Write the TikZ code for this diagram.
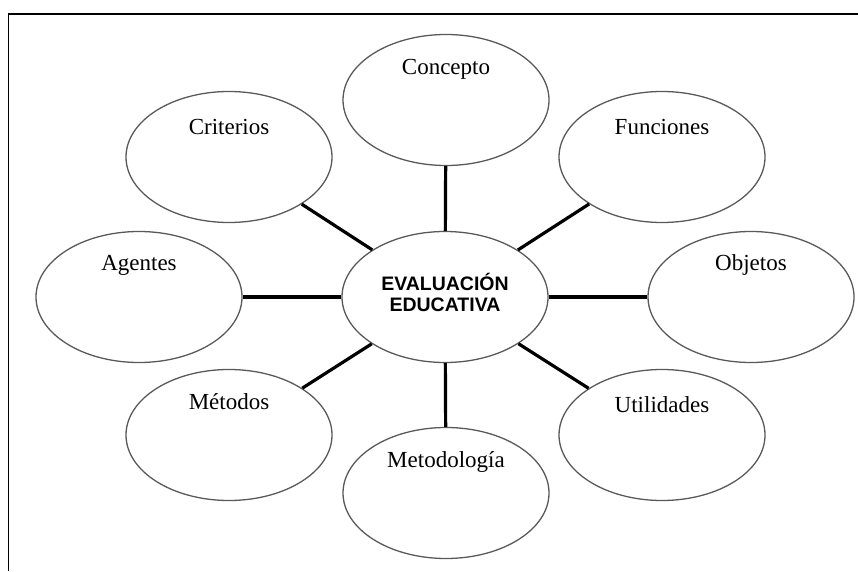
\documentclass[tikz,border=0pt]{standalone}
\usepackage{fontspec}
\setmainfont{Liberation Serif}
\newfontfamily\hdfont{Liberation Sans}
\usetikzlibrary{shapes.geometric}
\begin{document}
\begin{tikzpicture}[x=1pt,y=1pt,
  sat/.style={ellipse,draw=black!65,line width=1.3pt,minimum width=206pt,minimum height=131pt,inner sep=0pt},
  lbl/.style={inner sep=0pt,font=\fontsize{23}{27}\selectfont,text=black},
  hub/.style={inner sep=0pt,align=center,font=\hdfont\bfseries\fontsize{19.5}{21}\selectfont,text=black},
  conn/.style={line width=3.2pt,black},
  frame/.style={line width=1.4pt,black}]
\useasboundingbox (0,0) rectangle (858,571);
\coordinate (fbl) at (8.5,0);
\coordinate (ftl) at (8.5,557);
\coordinate (ftr) at (858,557);
\draw[frame] (fbl) -- (ftl) -- (ftr);
\node[sat] (concepto) at (446,471) {};
\node[sat] (criterios) at (229,414) {};
\node[sat] (funciones) at (662,414) {};
\node[sat] (agentes) at (139,274) {};
\node[sat] (centro) at (445,274) {};
\node[sat] (objetos) at (751,274) {};
\node[sat] (metodos) at (229,136) {};
\node[sat] (utilidades) at (662,136) {};
\node[sat] (metodologia) at (446,78) {};
\node[lbl] (lconcepto) at ([yshift=31]concepto.center) {Concepto};
\node[lbl] (lcriterios) at ([yshift=30]criterios.center) {Criterios};
\node[lbl] (lfunciones) at ([yshift=30]funciones.center) {Funciones};
\node[lbl] (lagentes) at ([yshift=32]agentes.center) {Agentes};
\node[lbl] (lobjetos) at ([yshift=32]objetos.center) {Objetos};
\node[lbl] (lmetodos) at ([yshift=33]metodos.center) {Métodos};
\node[lbl] (lutilidades) at ([yshift=30]utilidades.center) {Utilidades};
\node[lbl] (lmetodologia) at ([yshift=31]metodologia.center) {Metodología};
\node[hub] (lcentro) at ([yshift=5]centro.center) {EVALUACIÓN\\EDUCATIVA};
\foreach \s in {concepto,criterios,funciones,agentes,objetos,metodos,utilidades,metodologia}
  \draw[conn] (centro) -- (\s);
\end{tikzpicture}
\end{document}
